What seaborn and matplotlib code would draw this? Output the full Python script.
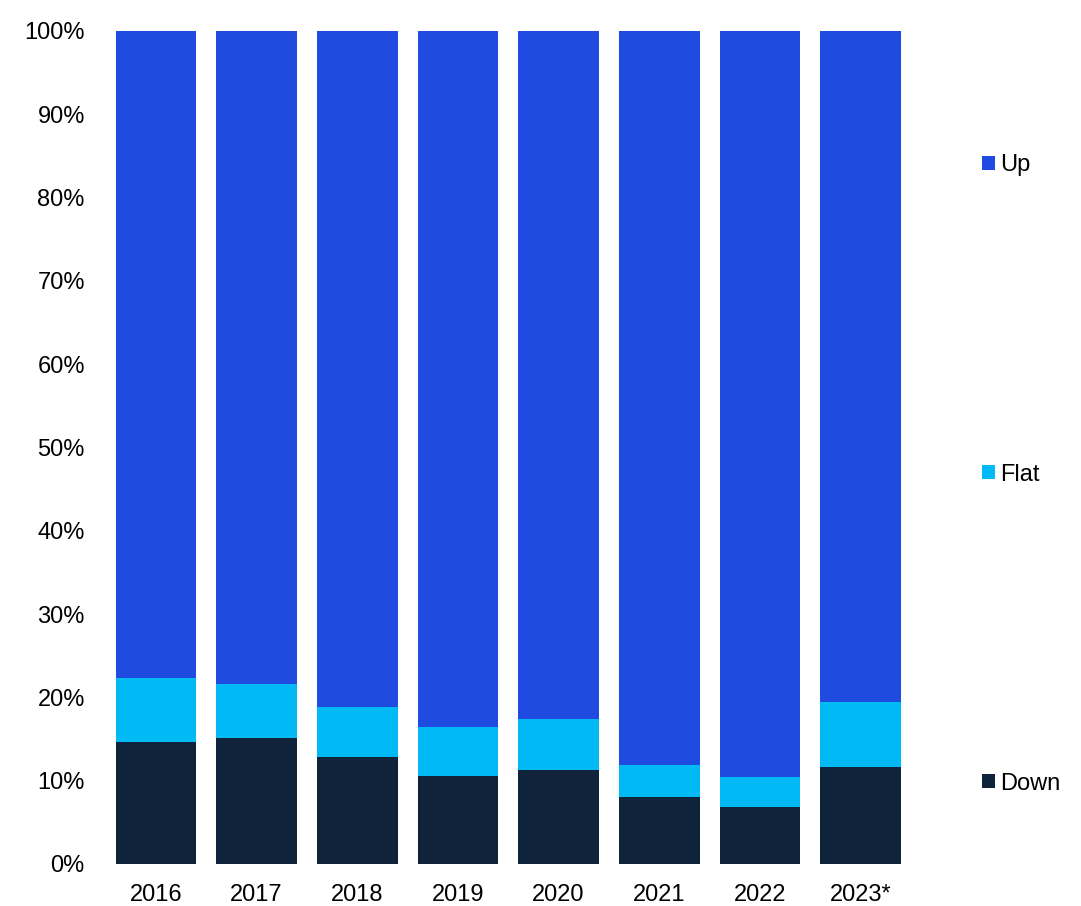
import numpy as np
import pandas as pd
import matplotlib
matplotlib.use("Agg")
import matplotlib.pyplot as plt
import seaborn as sns
from matplotlib.patches import Patch
from matplotlib.ticker import PercentFormatter

# data (share of total, %)
years = ["2016", "2017", "2018", "2019", "2020", "2021", "2022", "2023*"]
down = [14.7, 15.1, 12.8, 10.6, 11.3, 8.0, 6.8, 11.6]
flat = [7.6, 6.5, 6.0, 5.8, 6.1, 3.9, 3.6, 7.8]
up = [100 - d - f for d, f in zip(down, flat)]

col_up = "#1F4BE1"
col_flat = "#00B9F5"
col_down = "#0F233B"

df = pd.DataFrame({"year": years, "down": down, "flat": flat, "up": up})
df["down_flat"] = df["down"] + df["flat"]
df["total"] = df["down_flat"] + df["up"]

sns.set_style("white")
plt.rcParams["font.family"] = ["Liberation Sans", "DejaVu Sans"]
plt.rcParams["text.color"] = "black"
plt.rcParams["xtick.color"] = "black"
plt.rcParams["ytick.color"] = "black"

fig = plt.figure(figsize=(10.81, 9.06), dpi=100)
ax = fig.add_axes([0.0977, 0.0464, 0.745, 0.9194])

# stacked bars: draw cumulative totals back to front
for col, c in [("total", col_up), ("down_flat", col_flat), ("down", col_down)]:
    sns.barplot(data=df, x="year", y=col, color=c, width=0.8, saturation=1,
                linewidth=0, ax=ax)

ax.set_ylim(0, 100)
ax.set_xlim(-0.5, len(years) - 0.5)
ax.set_yticks(np.arange(0, 101, 10))
ax.yaxis.set_major_formatter(PercentFormatter(decimals=0))
ax.set_xlabel("")
ax.set_ylabel("")
ax.tick_params(axis="y", length=0, pad=15, labelsize=17)
ax.tick_params(axis="x", length=0, pad=14.5, labelsize=17)
sns.despine(ax=ax, left=True, bottom=True)

handles = [Patch(facecolor=col_up, edgecolor="none", label="Up"),
           Patch(facecolor=col_flat, edgecolor="none", label="Flat"),
           Patch(facecolor=col_down, edgecolor="none", label="Down")]
fig.legend(handles=handles, loc="upper left", bbox_to_anchor=(0.8997, 0.840),
           frameon=False, fontsize=17, handlelength=0.55, handleheight=0.55,
           handletextpad=0.2, labelspacing=12.16, borderaxespad=0)

fig.savefig("out.png", dpi=100)
